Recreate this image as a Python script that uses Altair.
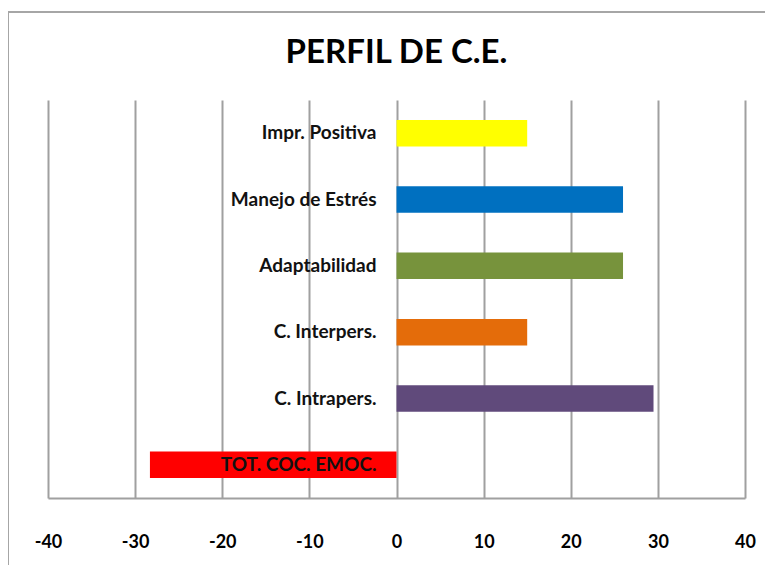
import altair as alt
import pandas as pd

title_text = "PERFIL DE C.E."
categories = ["Impr. Positiva", "Manejo de Estrés", "Adaptabilidad",
              "C. Interpers.", "C. Intrapers.", "TOT. COC. EMOC."]
values = [15, 26, 26, 15, 29.5, -28.3]
colors = ["#FFFF00", "#0070C0", "#77933C", "#E46C0A", "#604A7B", "#FF0000"]
x_ticks = [-40, -30, -20, -10, 0, 10, 20, 30, 40]

df = pd.DataFrame({"cat": categories, "value": values, "color": colors, "zero": [0] * len(categories)})
tdf = pd.DataFrame({"t": [title_text], "zero": [0]})

FONT = "Lato"

y_enc = alt.Y("cat:N", sort=categories, axis=None,
              scale=alt.Scale(paddingInner=0.6, paddingOuter=0.3))

frame = alt.Chart(tdf).mark_rect(fill=None, stroke="#A6A6A6", strokeWidth=2).encode(
    x=alt.value(-40), x2=alt.value(760), y=alt.value(-88), y2=alt.value(520)
)

bars = alt.Chart(df).mark_bar().encode(
    x=alt.X("value:Q",
            scale=alt.Scale(domain=[-40, 40], nice=False),
            axis=alt.Axis(values=x_ticks, title=None, grid=True, ticks=False,
                          labelExpr="datum.value + ''", labelFlush=False,
                          gridColor="#A0A0A0", gridWidth=2, gridOpacity=1,
                          domainColor="#A0A0A0", domainWidth=2,
                          labelFont=FONT, labelFontWeight="bold", labelFontSize=18,
                          labelColor="#000000", labelPadding=35)),
    y=y_enc,
    color=alt.Color("color:N", scale=None),
)

labels = alt.Chart(df).mark_text(align="right", baseline="middle", dx=-20,
                                 font=FONT, fontWeight="bold", fontSize=19,
                                 color="#111111").encode(
    x=alt.X("zero:Q"),
    y=y_enc,
    text="cat:N",
)

title = alt.Chart(tdf).mark_text(align="center", baseline="alphabetic",
                                 font=FONT, fontWeight="bold", fontSize=33,
                                 color="#000000").encode(
    x=alt.X("zero:Q"),
    y=alt.value(-37),
    text="t:N",
)

chart = alt.layer(frame, bars, labels, title).properties(
    width=697, height=398,
    autosize=alt.AutoSizeParams(type="none"),
    padding={"left": 40, "top": 92, "right": 20, "bottom": 67},
).configure_view(stroke=None)

chart.save("out.html", embed_options={"renderer": "svg", "actions": False})
